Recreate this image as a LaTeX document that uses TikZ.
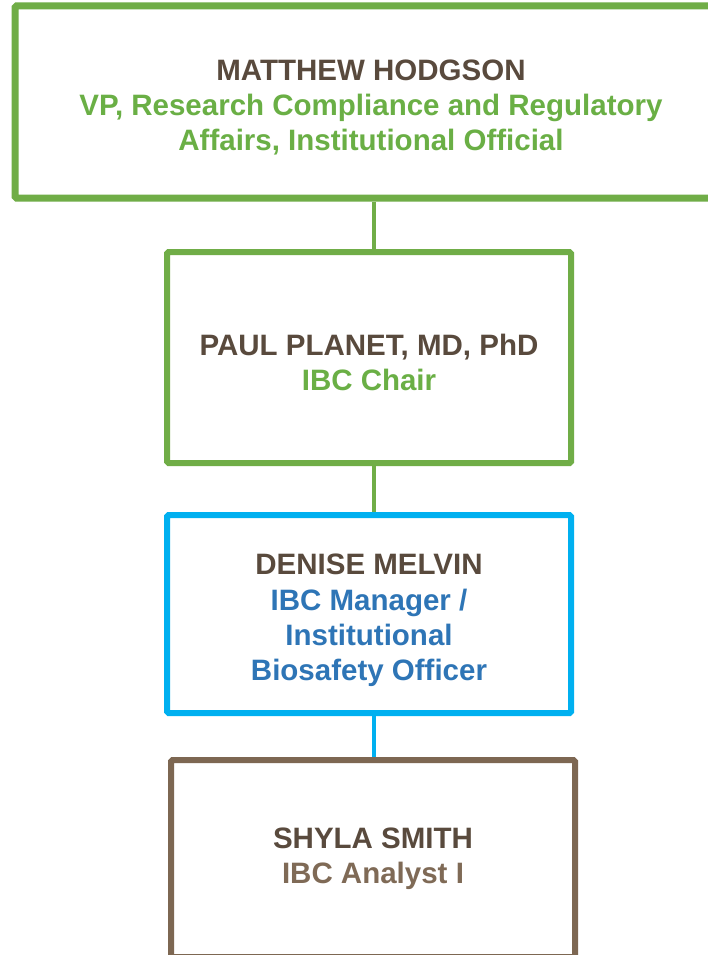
\documentclass[tikz,border=0pt]{standalone}
\usepackage{fontspec}
\setmainfont{Liberation Sans}
\definecolor{gbord}{HTML}{70AD47}
\definecolor{gtext}{HTML}{6AAF45}
\definecolor{bbord}{HTML}{00B0F0}
\definecolor{btext}{HTML}{2E75B6}
\definecolor{nbord}{HTML}{7D6752}
\definecolor{ntext}{HTML}{594A3D}
\definecolor{atext}{HTML}{7F6A56}
\begin{document}
\begin{tikzpicture}[x=1pt,y=-1pt,
  box/.style={draw, rectangle, rounded corners=1.5pt, line width=6pt, inner sep=0pt},
  txt/.style={align=center, inner sep=0pt, font=\fontsize{29.5}{35}\selectfont\bfseries},
  conn/.style={line width=4pt}]
\useasboundingbox (0,0) rectangle (708,955);
\clip (0,0) rectangle (708,955);
\fill[white] (0,0) rectangle (708,955);
\node[box, draw=gbord, line width=7pt, minimum width=712pt, minimum height=192pt] (top) at (371,102) {};
\node[txt] (topT) at ([yshift=-5pt]top.center)
  {\textcolor{ntext}{MATTHEW HODGSON}\\\textcolor{gtext}{VP, Research Compliance and Regulatory}\\\textcolor{gtext}{Affairs, Institutional Official}};
\node[box, draw=gbord, minimum width=404pt, minimum height=211pt] (chair) at (369,357.5) {};
\node[txt] (chairT) at ([yshift=-4.5pt]chair.center)
  {\textcolor{ntext}{PAUL PLANET, MD, PhD}\\\textcolor{gtext}{IBC Chair}};
\node[box, draw=bbord, minimum width=404pt, minimum height=198pt] (mgr) at (369,614) {};
\node[txt] (mgrT) at ([yshift=-6.5pt]mgr.center)
  {\textcolor{ntext}{DENISE MELVIN}\\[1.5pt]\textcolor{btext}{IBC Manager /}\\\textcolor{btext}{Institutional}\\\textcolor{btext}{Biosafety Officer}};
\node[box, draw=nbord, minimum width=404pt, minimum height=197pt] (analyst) at (373,858.5) {};
\node[txt] (analystT) at (analyst.center)
  {\textcolor{ntext}{SHYLA SMITH}\\\textcolor{atext}{IBC Analyst I}};
\draw[conn, gbord] ([xshift=3pt]top.south) -- ([xshift=5pt]chair.north);
\draw[conn, gbord] ([xshift=5pt]chair.south) -- ([xshift=5pt]mgr.north);
\draw[conn, bbord] ([xshift=5pt]mgr.south) -- ([xshift=1pt]analyst.north);
\end{tikzpicture}
\end{document}
